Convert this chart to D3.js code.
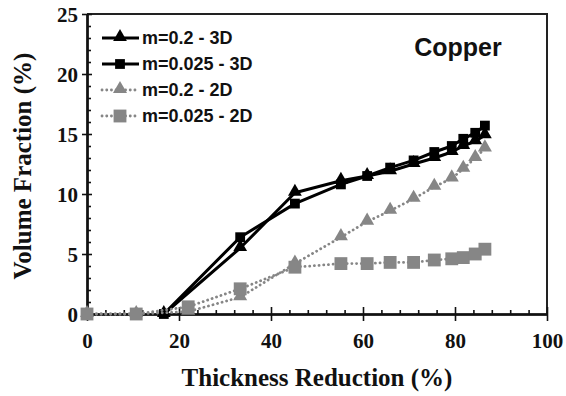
<!DOCTYPE html>
<html>
<head>
<meta charset="utf-8">
<script src="https://cdn.jsdelivr.net/npm/d3@7"></script>
<style>
  html, body { margin: 0; padding: 0; background: #fff; }
  svg { display: block; }
</style>
</head>
<body>
<svg id="chart" width="566" height="396"></svg>
<script>
// Thickness reduction (%) at which each series was sampled
const xs3D = [16.7, 33.3, 45.2, 55.2, 60.9, 65.9, 71, 75.5, 79.3, 81.8, 84.4, 86.5];
const xs2D = [0, 10.7, 22, 33.3, 45.2, 55.2, 60.9, 65.9, 71, 75.5, 79.3, 81.8, 84.4, 86.5];

// Volume fraction (%) per series
const m02_3D  = [0, 5.5, 10.1, 11.1, 11.5, 11.9, 12.5, 13.0, 13.5, 14.0, 14.4, 14.9];
const m025_3D = [0, 6.4, 9.2, 10.8, 11.5, 12.2, 12.8, 13.5, 14.0, 14.6, 15.1, 15.7];
const m02_2D  = [0, 0, 0.2, 1.4, 4.2, 6.4, 7.7, 8.6, 9.6, 10.6, 11.3, 12.1, 13.0, 13.8];
const m025_2D = [0, 0, 0.6, 2.1, 3.9, 4.2, 4.2, 4.3, 4.3, 4.5, 4.6, 4.7, 5.0, 5.4];

const seriesNames = ["m=0.2 - 3D", "m=0.025 - 3D", "m=0.2 - 2D", "m=0.025 - 2D"];

const xTicks = [0, 20, 40, 60, 80, 100];
const yTicks = [0, 5, 10, 15, 20, 25];

const xTitle = "Thickness Reduction (%)";
const yTitle = "Volume Fraction (%)";
const panelLabel = "Copper";

const svg = d3.select("#chart");
const serif = "'Liberation Serif', 'Times New Roman', serif";
const sans = "'Liberation Sans', Arial, sans-serif";

const x = d3.scaleLinear().domain([0, 100]).range([87, 547]);
const y = d3.scaleLinear().domain([0, 25]).range([314, 14]);

const black = "#000";
const gray = "#868686";
const dots = "0.1,4.6";

const series = [
  { name: seriesNames[0], xs: xs3D, ys: m02_3D,  color: black, dash: null, shape: d3.symbolTriangle, size: 82 },
  { name: seriesNames[1], xs: xs3D, ys: m025_3D, color: black, dash: null, shape: d3.symbolSquare,   size: 96 },
  { name: seriesNames[2], xs: xs2D, ys: m02_2D,  color: gray,  dash: dots, shape: d3.symbolTriangle, size: 85 },
  { name: seriesNames[3], xs: xs2D, ys: m025_2D, color: gray,  dash: dots, shape: d3.symbolSquare,   size: 165 }
];

// plot frame (top and right edges)
svg.append("path")
  .attr("d", `M${x(0)},${y(25)}H${x(100)}V${y(0)}`)
  .attr("fill", "none").attr("stroke", "#222").attr("stroke-width", 2);

// x axis: labelled major ticks hanging below, plus upward majors and minors
const minorX = d3.range(0, 101, 4).filter(v => v % 20 !== 0);
const minorY = d3.range(0, 26, 1).filter(v => v % 5 !== 0);

const gxDown = svg.append("g").attr("transform", `translate(0,${y(0)})`)
  .call(d3.axisBottom(x).tickValues(xTicks).tickSize(7).tickPadding(8).tickSizeOuter(0));
svg.append("g").attr("transform", `translate(0,${y(0)})`)
  .call(d3.axisTop(x).tickValues(xTicks).tickSize(7).tickFormat("").tickSizeOuter(0));
svg.append("g").attr("transform", `translate(0,${y(0)})`)
  .call(d3.axisTop(x).tickValues(minorX).tickSize(4).tickFormat("").tickSizeOuter(0));

// y axis: labelled majors to the left, majors and minors poking inward
const gyLeft = svg.append("g").attr("transform", `translate(${x(0)},0)`)
  .call(d3.axisLeft(y).tickValues(yTicks).tickSize(5).tickPadding(4).tickSizeOuter(0));
svg.append("g").attr("transform", `translate(${x(0)},0)`)
  .call(d3.axisRight(y).tickValues(yTicks).tickSize(5).tickFormat("").tickSizeOuter(0));
svg.append("g").attr("transform", `translate(${x(0)},0)`)
  .call(d3.axisRight(y).tickValues(minorY).tickSize(4).tickFormat("").tickSizeOuter(0));

svg.selectAll(".domain").attr("stroke", "#111").attr("stroke-width", 2);
svg.selectAll(".tick line").attr("stroke", "#111").attr("stroke-width", 1.6);

gxDown.selectAll("text")
  .attr("font-family", serif).attr("font-weight", "bold").attr("font-size", 21)
  .attr("fill", "#111").attr("y", 19).attr("dy", "0.71em");
gyLeft.selectAll("text")
  .attr("font-family", serif).attr("font-weight", "bold").attr("font-size", 21)
  .attr("fill", "#111").attr("dy", "0.34em");

// axis titles
svg.append("text")
  .attr("x", (x(0) + x(100)) / 2).attr("y", 386)
  .attr("text-anchor", "middle")
  .attr("font-family", serif).attr("font-weight", "bold").attr("font-size", 25)
  .attr("fill", "#111").text(xTitle);

svg.append("text")
  .attr("transform", `translate(31,${(y(0) + y(25)) / 2 + 2}) rotate(-90)`)
  .attr("text-anchor", "middle")
  .attr("font-family", serif).attr("font-weight", "bold").attr("font-size", 25)
  .attr("fill", "#111").text(yTitle);

// series lines and markers
const plot = svg.append("g");
series.forEach(s => {
  const pts = s.xs.map((v, i) => [v, s.ys[i]]);
  const line = d3.line().x(d => x(d[0])).y(d => y(d[1]));
  plot.append("path")
    .attr("d", line(pts))
    .attr("fill", "none")
    .attr("stroke", s.color)
    .attr("stroke-width", s.dash ? 2.8 : 3)
    .attr("stroke-dasharray", s.dash)
    .attr("stroke-linecap", s.dash ? "round" : "butt")
    .attr("stroke-linejoin", "round");
  const sym = d3.symbol().type(s.shape).size(s.size);
  plot.selectAll(null).data(pts).enter().append("path")
    .attr("d", sym)
    .attr("transform", d => `translate(${x(d[0])},${y(d[1]) + (s.shape === d3.symbolTriangle ? -1 : 0)})`)
    .attr("fill", s.color);
});

// legend
const legend = svg.append("g");
const legendY = [38, 64, 90, 116];
series.forEach((s, i) => {
  const ly = legendY[i];
  legend.append("line")
    .attr("x1", 102).attr("x2", 139).attr("y1", ly).attr("y2", ly)
    .attr("stroke", s.color).attr("stroke-width", s.dash ? 2.8 : 3)
    .attr("stroke-dasharray", s.dash)
    .attr("stroke-linecap", s.dash ? "round" : "butt");
  legend.append("path")
    .attr("d", d3.symbol().type(s.shape).size(s.size)())
    .attr("transform", `translate(120,${ly + (s.shape === d3.symbolTriangle ? -1 : 0)})`)
    .attr("fill", s.color);
  legend.append("text")
    .attr("x", 142).attr("y", ly).attr("dy", "0.36em")
    .attr("font-family", sans).attr("font-weight", "bold").attr("font-size", 18)
    .attr("fill", "#111").text(s.name);
});

// material label
svg.append("text")
  .attr("x", 458).attr("y", 47).attr("dy", "0.36em")
  .attr("text-anchor", "middle")
  .attr("font-family", sans).attr("font-weight", "bold").attr("font-size", 25)
  .attr("fill", "#111").text(panelLabel);
</script>
</body>
</html>
